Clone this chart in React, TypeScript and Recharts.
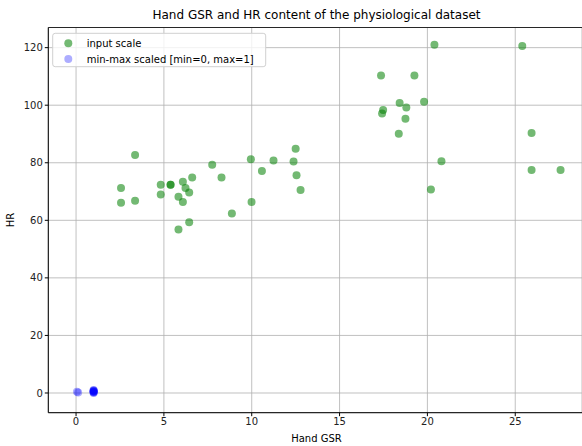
import React from "react";
import {
  ScatterChart,
  Scatter,
  XAxis,
  YAxis,
  CartesianGrid,
  Label,
} from "recharts";

// raw hand GSR / HR readings
const gsrValues = [
  2.56, 2.56, 3.36, 3.36, 4.82, 4.82, 5.38, 5.38, 6.08, 6.61, 6.23, 6.44,
  5.83, 6.08, 5.83, 6.44, 7.75, 8.28, 8.87, 9.95, 9.99, 10.58, 11.24, 12.38,
  12.5, 12.55, 12.78, 20.4, 25.4, 17.36, 19.26, 18.42, 18.8, 19.81, 17.48,
  17.42, 18.75, 18.37, 25.93, 20.8, 25.93, 27.58, 20.2,
];
const hrValues = [
  71.2, 66.1, 82.7, 66.8, 72.4, 69.0, 72.4, 72.4, 73.4, 74.9, 71.2, 69.7,
  68.2, 66.4, 56.8, 59.3, 79.3, 74.9, 62.4, 81.2, 66.4, 77.1, 80.8, 80.4,
  84.9, 75.7, 70.5, 121.0, 120.6, 110.3, 110.3, 100.8, 99.2, 101.2, 98.3,
  97.1, 95.3, 90.1, 90.3, 80.5, 77.5, 77.5, 70.7,
];

// min-max scaled readings
const scaledX = [0.05, 0.12, 1, 1, 1, 1, 1, 1, 1, 1, 1];
const scaledY = [0.4, 0.2, 0, 0.15, 0.3, 0.45, 0.6, 0.75, 0.9, 1.0, 0.5];

const xTicks = [0, 5, 10, 15, 20, 25];
const yTicks = [0, 20, 40, 60, 80, 100, 120];

const inputData = gsrValues.map((x, i) => ({ x, y: hrValues[i] }));
const scaledData = scaledX.map((x, i) => ({ x, y: scaledY[i] }));

const FONT = "'DejaVu Sans', sans-serif";

const greenDot = (p: any) => (
  <circle cx={p.cx} cy={p.cy} r={4} fill="#008000" fillOpacity={0.55} />
);
const blueDot = (p: any) => (
  <circle cx={p.cx} cy={p.cy} r={4} fill="#0000ff" fillOpacity={0.32} />
);

const tickStyle = { fontSize: 10, fill: "#222", fontFamily: FONT };

export default function App() {
  return (
    <div style={{ position: "absolute", left: 0, top: 0, width: 582, height: 446, background: "#fff" }}>
      <div
        style={{
          position: "absolute",
          top: 8,
          left: 48,
          width: 537,
          textAlign: "center",
          fontFamily: FONT,
          fontSize: 12,
          color: "#000",
        }}
      >
        Hand GSR and HR content of the physiological dataset
      </div>
      <ScatterChart
        width={582}
        height={446}
        margin={{ top: 27.5, right: 0, bottom: 0, left: 0 }}
      >
        <CartesianGrid stroke="#b0b0b0" strokeWidth={0.8} />
        <XAxis
          type="number"
          dataKey="x"
          domain={[-1.58, 28.8]}
          ticks={xTicks}
          allowDataOverflow
          height={33.3}
          tick={tickStyle}
          tickSize={3.5}
          tickLine={{ stroke: "#000" }}
          axisLine={{ stroke: "#000" }}
        >
          <Label
            content={() => (
              <text x={316.5} y={442} textAnchor="middle" fontSize={10} fontFamily={FONT} fill="#000">
                Hand GSR
              </text>
            )}
          />
        </XAxis>
        <YAxis
          type="number"
          dataKey="y"
          domain={[-6.85, 127]}
          ticks={yTicks}
          allowDataOverflow
          width={48.3}
          tick={tickStyle}
          tickSize={3.5}
          tickLine={{ stroke: "#000" }}
          axisLine={{ stroke: "#000" }}
        >
          <Label
            content={() => (
              <text
                x={14}
                y={220}
                textAnchor="middle"
                fontSize={10}
                fontFamily={FONT}
                fill="#000"
                transform="rotate(-90 14 220)"
              >
                HR
              </text>
            )}
          />
        </YAxis>
        <Scatter data={inputData} shape={greenDot} isAnimationActive={false} />
        <Scatter data={scaledData} shape={blueDot} isAnimationActive={false} />
      </ScatterChart>
      <svg
        style={{ position: "absolute", left: 0, top: 0, pointerEvents: "none" }}
        width={582}
        height={446}
      >
        <line x1={48.3} y1={27.5} x2={582} y2={27.5} stroke="#000" strokeWidth={0.8} />
        <rect
          x={52.7}
          y={33.3}
          width={213}
          height={33.4}
          rx={2.5}
          fill="#fff"
          fillOpacity={0.8}
          stroke="#d0d0d0"
          strokeWidth={1}
        />
        <circle cx={68.3} cy={43.3} r={4} fill="#008000" fillOpacity={0.55} />
        <circle cx={68.3} cy={59} r={4} fill="#0000ff" fillOpacity={0.32} />
        <text x={86.7} y={46.8} fontSize={10} fontFamily={FONT} fill="#000">
          input scale
        </text>
        <text x={86.7} y={62.5} fontSize={10} fontFamily={FONT} fill="#000">
          min-max scaled [min=0, max=1]
        </text>
      </svg>
    </div>
  );
}
